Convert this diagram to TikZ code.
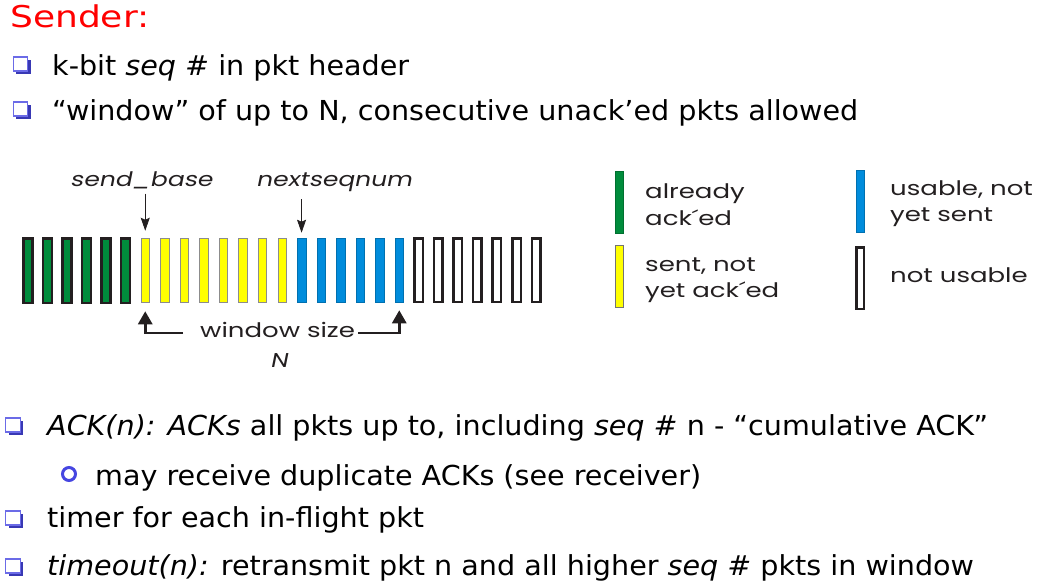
\documentclass[tikz,border=0pt]{standalone}
\usepackage{fontspec}
\setmainfont{DejaVu Sans}[FakeStretch=1.04]
\newfontfamily\hdfont[FakeStretch=1.2]{DejaVu Sans}
\newfontfamily\figfont[FakeStretch=1.3]{Poppins}
\newfontfamily\figitfont[FakeStretch=1.25,FakeSlant=0.2]{Poppins}
\usetikzlibrary{arrows.meta,shadows}
\definecolor{ackgreen}{RGB}{0,140,60}
\definecolor{sentyellow}{RGB}{255,255,0}
\definecolor{usblue}{RGB}{0,140,220}
\definecolor{bulletblue}{RGB}{70,70,225}
\definecolor{sendred}{RGB}{255,0,0}
\definecolor{ink}{RGB}{35,31,32}
\begin{document}
\begin{tikzpicture}[x=1pt,y=-1pt,
  txt/.style={anchor=base west, inner sep=0pt, font=\fontsize{27.5}{32}\selectfont},
  figtxt/.style={anchor=base west, inner sep=0pt, font=\figfont\fontsize{20}{24}\selectfont, text=ink},
  figit/.style={anchor=base west, inner sep=0pt, font=\figitfont\fontsize{20}{24}\selectfont, text=ink},
  pktack/.style={rectangle, inner sep=0pt, fill=ackgreen, draw=ink, line width=2.5pt, minimum width=9pt, minimum height=64.5pt},
  pktsent/.style={rectangle, inner sep=0pt, fill=sentyellow, draw=black!45, line width=0.5pt, minimum width=8.5pt, minimum height=64pt},
  pktusable/.style={rectangle, inner sep=0pt, fill=usblue, draw=usblue!80!black, line width=0.5pt, minimum width=8.5pt, minimum height=64pt},
  pktnot/.style={rectangle, inner sep=0pt, fill=white, draw=ink, line width=2.5pt, minimum width=8.5pt, minimum height=63.5pt},
  legbar/.style={rectangle, inner sep=0pt, minimum width=8pt, minimum height=62pt},
  bbox/.style={rectangle, inner sep=0pt, minimum width=14.5pt, minimum height=14pt, fill=white, draw=bulletblue!80, line width=1.3pt,
    drop shadow={shadow xshift=2.8pt, shadow yshift=-2.8pt, fill=bulletblue!80!black, opacity=1}},
  bcirc/.style={circle, inner sep=0pt, minimum size=13pt, draw=bulletblue, line width=3pt},
  ptr/.style={-{Stealth[length=13pt,width=9pt,inset=2pt]}, line width=0.8pt, draw=ink},
  warr/.style={-{Triangle[length=13pt,width=14pt]}, line width=2.8pt, draw=ink}
]
\useasboundingbox (0,0) rectangle (1038,584);

% ---------- header and first bullets ----------
\node[anchor=base west, inner sep=0pt, font=\hdfont\fontsize{30}{34}\selectfont, text=sendred] (sender) at (10,27) {Sender:};
\node[bbox] (b1) at (20.5,64) {};
\node[txt] (t1) at (52,75) {k-bit \textit{seq \#} in pkt header};
\node[bbox] (b2) at (20.5,109) {};
\node[txt] (t2) at (52,120) {“window” of up to N, consecutive unack’ed pkts allowed};

% ---------- packet row ----------
\foreach \i in {0,...,5}{\node[pktack] (p\i) at ({28+19.54*\i},270.5) {};}
\foreach \i in {6,...,13}{\node[pktsent] (p\i) at ({28+19.54*\i},270) {};}
\foreach \i in {14,...,19}{\node[pktusable] (p\i) at ({28+19.54*\i},270) {};}
\foreach \i in {20,...,26}{\node[pktnot] (p\i) at ({28+19.54*\i},270) {};}

\node[figit] (sb) at (70,186) {send\_base};
\node[figit] (ns) at (256,186) {nextseqnum};
\draw[ptr] ([yshift=-5pt]sb.south -| p6) -- ([yshift=7pt]p6.north);
\draw[ptr] ([yshift=-8pt]ns.south -| p14) -- ([yshift=5pt]p14.north);

\node[figtxt] (ws) at (200,337) {window size};
\node[figit, anchor=base] (nn) at (279,367) {N};
\coordinate (wl) at (183,333);
\coordinate (wr) at (358,333);
\draw[warr] (wl) -| ([yshift=-9pt]p6.south);
\draw[warr] (wr) -| ([yshift=-8pt]p19.south);

% ---------- legend ----------
\node[legbar, fill=ackgreen, draw=ackgreen!80!black, line width=0.4pt] (lg) at (619,202) {};
\node[figtxt] (lg1) at (645,198) {already};
\node[figtxt] (lg2) at (645,225) {ack´ed};
\node[legbar, fill=sentyellow, draw=black!55, line width=0.5pt] (ly) at (619,276.5) {};
\node[figtxt] (ly1) at (645,271) {sent, not};
\node[figtxt] (ly2) at (645,297) {yet ack´ed};
\node[legbar, fill=usblue, draw=usblue!80!black, line width=0.4pt] (lb) at (860,201.5) {};
\node[figtxt] (lb1) at (890,195) {usable, not};
\node[figtxt] (lb2) at (890,221) {yet sent};
\node[legbar, fill=white, draw=ink, line width=2.5pt, minimum width=7.5pt, minimum height=61.5pt] (ln) at (860,278) {};
\node[figtxt] (ln1) at (890,282) {not usable};

% ---------- lower bullets ----------
\node[bbox] (b3) at (13,425) {};
\node[txt] (t3) at (47,435) {\textit{ACK(n): ACKs} all pkts up to, including \textit{seq \#} n - “cumulative ACK”};
\node[bcirc] (c1) at (69,474) {};
\node[txt] (t4) at (95,485) {may receive duplicate ACKs (see receiver)};
\node[bbox] (b4) at (13,518) {};
\node[txt] (t5) at (47,527) {timer for each in-flight pkt};
\node[bbox] (b5) at (13,566) {};
\node[txt] (t6) at (47,575) {\textit{timeout(n):} retransmit pkt n and all higher \textit{seq \#} pkts in window};
\end{tikzpicture}
\end{document}
